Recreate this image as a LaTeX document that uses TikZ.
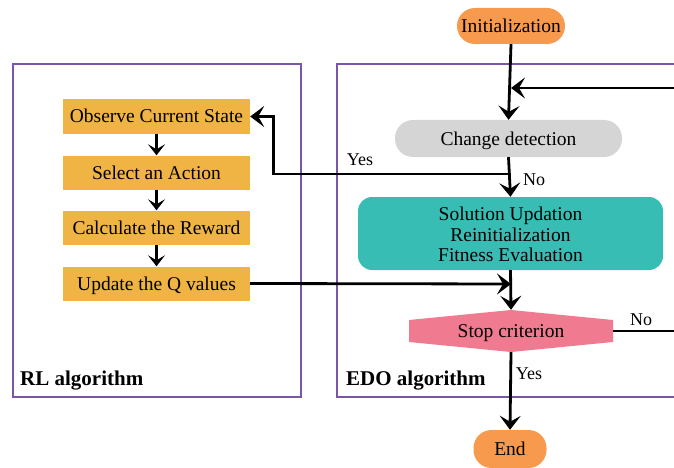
\documentclass[tikz,border=0pt]{standalone}
\usepackage{fontspec}
\setmainfont{Liberation Serif}
\usetikzlibrary{arrows.meta,calc}
\definecolor{cinit}{HTML}{F79A4E}
\definecolor{cgrey}{HTML}{D5D5D5}
\definecolor{cteal}{HTML}{38BDB4}
\definecolor{cpink}{HTML}{F07A8F}
\definecolor{cyell}{HTML}{F0B444}
\definecolor{cpurp}{HTML}{7B55A8}
\tikzset{
  base/.style={font=\fontsize{19.5}{20.5}\selectfont, inner sep=0pt, text=black, text height=15pt, text depth=2pt},
  pill/.style={base, rounded corners=18pt},
  rlbox/.style={base, fill=cyell, minimum width=187pt, minimum height=34pt},
  panel/.style={draw=cpurp, line width=1.8pt},
  paneltitle/.style={font=\fontsize{21}{22}\selectfont\bfseries, inner sep=0pt, anchor=west},
  lbl/.style={font=\fontsize{18}{20}\selectfont, inner sep=0pt},
  conn/.style={line width=2.8pt, black},
  arr/.style={conn, -{Stealth[length=14pt,width=21pt,inset=6pt]}},
  sarr/.style={conn, -{Stealth[length=11pt,width=17pt,inset=5pt]}},
  hexa/.style={base, minimum width=204pt, minimum height=42pt,
    path picture={\fill[cpink]
      ([yshift=-10pt]path picture bounding box.north west) --
      (path picture bounding box.north) --
      ([yshift=-10pt]path picture bounding box.north east) --
      ([yshift=10pt]path picture bounding box.south east) --
      (path picture bounding box.south) --
      ([yshift=10pt]path picture bounding box.south west) -- cycle;}}
}
\begin{document}
\begin{tikzpicture}[x=1pt,y=-1pt]
\useasboundingbox (0,0) rectangle (674,468);
% panels
\node[panel, minimum width=288pt, minimum height=333pt, inner sep=0pt] (rl) at (157,230.5) {};
\node[panel, minimum width=363pt, minimum height=333pt, inner sep=0pt] (edo) at (518.5,230.5) {};
\node[paneltitle] (rlt) at (20,381) {RL algorithm};
\node[paneltitle] (edot) at (346,381) {EDO algorithm};
% RL steps
\node[rlbox] (obs) at (156.5,116.5) {Observe Current State};
\node[rlbox] (sel) at (156.5,172.5) {Select an Action};
\node[rlbox] (cal) at (156.5,227.5) {Calculate the Reward};
\node[rlbox] (upd) at (156.5,283.5) {Update the Q values};
\draw[sarr] (obs.south) -- (sel.north);
\draw[sarr] (sel.south) -- (cal.north);
\draw[sarr] (cal.south) -- (upd.north);
% EDO flow
\node[pill, fill=cinit, minimum width=108pt, minimum height=36pt] (init) at (511,26) {Initialization};
\node[pill, fill=cgrey, minimum width=227pt, minimum height=37pt] (cd) at (508.5,138.5) {Change detection};
\node[font=\fontsize{19.5}{20.6}\selectfont, inner sep=0pt, text=black, fill=cteal, rounded corners=14pt, minimum width=305pt, minimum height=73pt, align=center] (sol) at (510.5,233.5) {\rule{0pt}{15.5pt}Solution Updation\\Reinitialization\\Fitness Evaluation};
\node[hexa] (stop) at (511,331) {Stop criterion};
\node[pill, fill=cinit, minimum width=73pt, minimum height=38pt] (end) at (510,449) {End};
\coordinate (loopin) at (700,88);
\coordinate (join) at (511,88);
\coordinate (ybr) at (511,174);
\coordinate (qin) at (511,284);
\coordinate (loopout) at (700,331);
\draw[arr] (init.south) -- (cd.north);
\draw[arr] (loopin) -- (join);
\draw[arr] (cd.south) -- (sol.north);
\draw[arr] (ybr) -| ($(obs.east)+(23,0)$) -- (obs.east);
\draw[arr] (upd.east) -- (qin);
\draw[arr] (sol.south) -- (stop.north);
\draw[conn] (stop.east) -- (loopout);
\draw[arr] (stop.south) -- (end.north);
% labels
\node[lbl] (yes1) at (360,160) {Yes};
\node[lbl] (no1) at (534,180) {No};
\node[lbl] (no2) at (641,320) {No};
\node[lbl] (yes2) at (529,374) {Yes};
\end{tikzpicture}
\end{document}
